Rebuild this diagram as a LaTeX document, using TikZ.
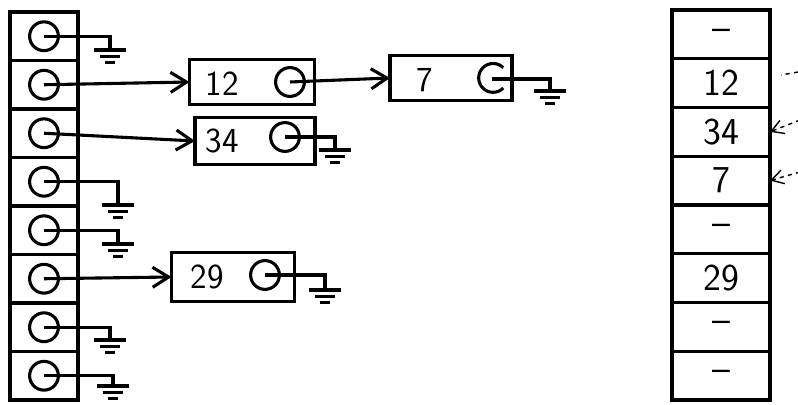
\documentclass[tikz,border=0pt]{standalone}
\usepackage{tikz}
\usetikzlibrary{positioning}
\usetikzlibrary{arrows.meta}
\tikzset {
  % table cells
  cell/.style = {draw, line width=2.2pt, minimum width=1.7cm, minimum height=1.2125cm, inner sep=0pt, outer sep=0pt},
  slot/.style = {cell, minimum width=2.45cm, minimum height=1.21875cm, font=\sffamily\fontsize{27}{30}\selectfont},
  % pointer circles
  ptr/.style = {draw, circle, line width=2.2pt, minimum size=0.72cm, inner sep=0pt},
  % list items
  item/.style = {draw, line width=2.2pt, inner sep=0pt, outer sep=0pt},
  val/.style = {font=\sffamily\fontsize{25}{30}\selectfont, inner sep=0pt},
  % wires and arrows
  wire/.style = {line width=2.2pt},
  link/.style = {wire, -{Straight Barb[length=0.4cm, width=0.5cm]}},
  probe/.style = {line width=1pt, dashed, -{Straight Barb[length=0.3cm, width=0.35cm]}},
}
\newcommand{\earth}[1]{
  \draw[wire] ([xshift=-0.4cm]#1) -- ([xshift=0.4cm]#1);
  \draw[wire] ([xshift=-0.25cm, yshift=-0.17cm]#1) -- ([xshift=0.25cm, yshift=-0.17cm]#1);
  \draw[wire] ([xshift=-0.12cm, yshift=-0.32cm]#1) -- ([xshift=0.12cm, yshift=-0.32cm]#1);
}

\begin{document}
\begin{tikzpicture}[x=0.025cm, y=-0.025cm]
  \useasboundingbox (0,0) rectangle (798,405);

  % chained table
  \node[cell] (L1) at (44, 36.25) {};
  \node[cell] (L2) at (44, 84.75) {};
  \node[cell] (L3) at (44, 133.25) {};
  \node[cell] (L4) at (44, 181.75) {};
  \node[cell] (L5) at (44, 230.25) {};
  \node[cell] (L6) at (44, 278.75) {};
  \node[cell] (L7) at (44, 327.25) {};
  \node[cell] (L8) at (44, 375.75) {};

  \node[ptr] (c1) at (L1) {};
  \node[ptr] (c2) at (L2) {};
  \node[ptr] (c3) at (L3) {};
  \node[ptr] (c4) at (L4) {};
  \node[ptr] (c5) at (L5) {};
  \node[ptr] (c6) at (L6) {};
  \node[ptr] (c7) at (L7) {};
  \node[ptr] (c8) at (L8) {};

  % list items
  \node[item, minimum width=3.125cm, minimum height=1.125cm] (b12) at (252, 82) {};
  \node[val] (v12) at (222, 84) {12};
  \node[ptr] (p12) at (290, 82) {};

  \node[item, minimum width=3.05cm, minimum height=1.125cm] (b7) at (451, 78) {};
  \node[val] (v7) at (425, 80) {7};
  \node[ptr, draw=none] (p7) at (492, 79) {};
  \draw[wire] (p7.north east) arc[start angle=45, end angle=315, radius=0.36cm];

  \node[item, minimum width=3cm, minimum height=1.175cm] (b34) at (255, 141) {};
  \node[val] (v34) at (222, 141) {34};
  \node[ptr] (p34) at (285, 137) {};

  \node[item, minimum width=3.075cm, minimum height=1.225cm] (b29) at (233, 277) {};
  \node[val] (v29) at (207, 277) {29};
  \node[ptr] (p29) at (265, 275) {};

  % links
  \draw[link] (c2.center) -- (b12.west);
  \draw[link] (c3.center) -- (b34.west);
  \draw[link] (c6.center) -- (b29.west);
  \draw[link] (p12.center) -- (b7.west);

  % null pointers
  \coordinate (g1) at (110, 50);
  \coordinate (g4) at (118, 205);
  \coordinate (g5) at (118, 244);
  \coordinate (g7) at (110, 340);
  \coordinate (g8) at (113, 386);
  \coordinate (n7) at (550, 91);
  \coordinate (n34) at (335, 150);
  \coordinate (n29) at (325, 290);

  \draw[wire] (c1.center) -| (g1); \earth{g1}
  \draw[wire] (c4.center) -| (g4); \earth{g4}
  \draw[wire] (c5.center) -| (g5); \earth{g5}
  \draw[wire] (c7.center) -| (g7); \earth{g7}
  \draw[wire] (c8.center) -| (g8); \earth{g8}
  \draw[wire] (p7.center) -| (n7); \earth{n7}
  \draw[wire] (p34.center) -| (n34); \earth{n34}
  \draw[wire] (p29.center) -| (n29); \earth{n29}

  % open addressing table
  \node[slot] (r1) at (721, 34.4) {--};
  \node[slot] (r2) at (721, 83.1) {12};
  \node[slot] (r3) at (721, 131.9) {34};
  \node[slot] (r4) at (721, 180.6) {7};
  \node[slot] (r5) at (721, 229.4) {--};
  \node[slot] (r6) at (721, 278.1) {29};
  \node[slot] (r7) at (721, 326.9) {--};
  \node[slot] (r8) at (721, 375.6) {--};

  % probes
  \coordinate (q2) at (798, 72);
  \coordinate (q2e) at (781, 75);
  \coordinate (q3) at (800, 120);
  \coordinate (q4) at (800, 172);
  \draw[line width=1pt, dashed] (q2) -- (q2e);
  \draw[probe] (q3) -- (r3.east);
  \draw[probe] (q4) -- (r4.east);
\end{tikzpicture}
\end{document}
